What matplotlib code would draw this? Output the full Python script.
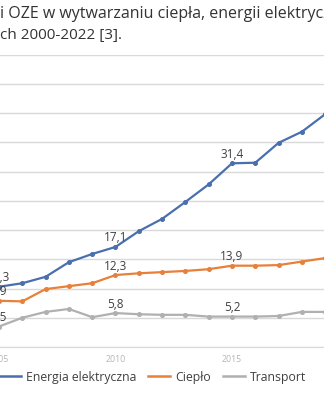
import matplotlib
matplotlib.use('Agg')
import matplotlib.pyplot as plt

# udział OZE [%] (widoczny fragment 2005-2019)
years = list(range(2005, 2020))
energia_elektryczna = [10.3, 10.9, 12.0, 14.5, 15.9, 17.1, 19.8, 21.9, 24.8, 27.8,
                       31.4, 31.5, 34.9, 36.8, 39.8]
cieplo = [7.9, 7.8, 9.9, 10.4, 10.9, 12.3, 12.6, 12.8, 13.0, 13.3,
          13.9, 13.9, 14.0, 14.6, 15.2]
transport = [3.5, 5.0, 6.0, 6.5, 5.1, 5.8, 5.6, 5.5, 5.5, 5.2,
             5.2, 5.2, 5.3, 6.0, 6.0]
label_years = [2005, 2010, 2015]
series_names = ['Energia elektryczna', 'Ciepło', 'Transport']
colors = ['#4a6fae', '#e8803a', '#b0b0b0']

plt.rcParams['font.family'] = ['Open Sans', 'DejaVu Sans']

W, H = 324, 400
fig = plt.figure(figsize=(W / 100, H / 100), dpi=100)

# osie wychodzą poza kadr - widoczny jest tylko fragment wykresu
px_per_year = 23.3
x0_px = -1 - 5.5 * px_per_year
ax = fig.add_axes([x0_px / W, 1 - 347 / H, 23 * px_per_year / W, 292.5 / H])
ax.set_xlim(1999.5, 2022.5)
ax.set_ylim(0, 50)

for name, vals, c in zip(series_names, [energia_elektryczna, cieplo, transport], colors):
    ax.plot(years, vals, color=c, lw=1.6, marker='o', ms=2.6, label=name, zorder=3)
    for y in label_years:
        v = vals[years.index(y)]
        ax.annotate(f'{v:.1f}'.replace('.', ','), (y, v), textcoords='offset points',
                    xytext=(0, 6.5), ha='center', va='center', fontsize=8.5,
                    color='#404040', zorder=4)

ax.set_yticks(range(0, 51, 5))
ax.yaxis.grid(True, color='#d9d9d9', lw=1)
ax.set_axisbelow(True)
for s in ['top', 'right', 'left']:
    ax.spines[s].set_visible(False)
ax.spines['bottom'].set_color('#d9d9d9')
ax.tick_params(axis='y', length=0, labelleft=False)
ax.set_xticks(range(2000, 2023, 5))
ax.tick_params(axis='x', length=0, pad=6, labelsize=6.3, labelcolor='#b5b5b5')

fig.text(0.0, 1 - 18 / H, 'i OZE w wytwarzaniu ciepła, energii elektrycznej',
         fontsize=11.5, color='#333333', va='baseline', ha='left')
fig.text(0.0, 1 - 39 / H, 'ch 2000-2022 [3].',
         fontsize=11.0, color='#333333', va='baseline', ha='left')

leg = fig.legend(loc='center left', bbox_to_anchor=(-1 / W, 1 - 377 / H), ncol=3,
                 frameon=False, fontsize=8.8, handlelength=1.8, handletextpad=0.4,
                 columnspacing=1.0, borderpad=0, borderaxespad=0, labelcolor='#404040')
for line in leg.get_lines():
    line.set_marker('')
    line.set_linewidth(1.8)

fig.savefig('out.png', dpi=100, facecolor='white')
